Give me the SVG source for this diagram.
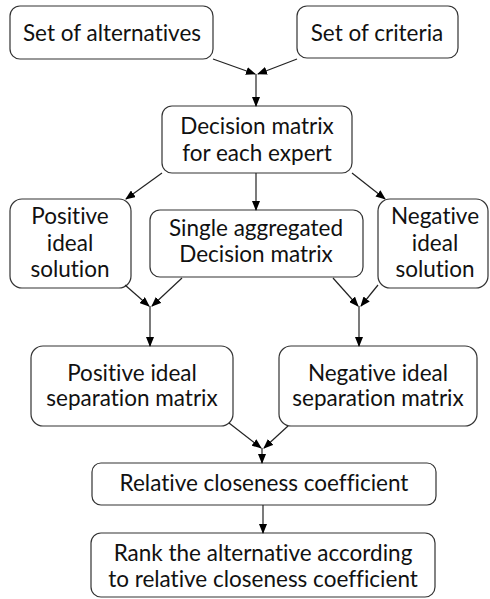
<svg xmlns="http://www.w3.org/2000/svg" width="490" height="599" viewBox="0 0 490 599">
<defs>
<marker id="ah" markerWidth="10" markerHeight="8" refX="9" refY="4" orient="auto" markerUnits="userSpaceOnUse">
<path d="M0,0 L10,4 L0,8 Z" fill="#000"/>
</marker>
<style>
.box{fill:#fff;stroke:#333;stroke-width:1.2}
.t{font-family:Lato,"Noto Sans",sans-serif;font-size:22.5px;fill:#111;text-anchor:middle;font-variant-ligatures:none}
.a{stroke:#222;stroke-width:1.2;fill:none;marker-end:url(#ah)}
</style>
</defs>
<rect width="490" height="599" fill="#fff"/>
<g id="alternatives"><rect class="box" x="10" y="6" width="203" height="53" rx="10"/><text class="t" x="112" y="41">Set of alternatives</text></g>
<g id="criteria"><rect class="box" x="297" y="6" width="161" height="52" rx="10"/><text class="t" x="377" y="41">Set of criteria</text></g>
<g id="decision"><rect class="box" x="162" y="106" width="190" height="67" rx="10"/><text class="t" x="257" y="134">Decision matrix</text><text class="t" x="257" y="161">for each expert</text></g>
<g id="pis"><rect class="box" x="10" y="199" width="121" height="89" rx="12"/><text class="t" x="70" y="224">Positive</text><text class="t" x="70" y="251">ideal</text><text class="t" x="70" y="277">solution</text></g>
<g id="single"><rect class="box" x="150" y="210" width="213" height="67" rx="10"/><text class="t" x="256" y="236">Single aggregated</text><text class="t" x="256" y="262">Decision matrix</text></g>
<g id="nis"><rect class="box" x="378" y="199" width="110" height="89" rx="12"/><text class="t" x="435" y="224">Negative</text><text class="t" x="435" y="251">ideal</text><text class="t" x="435" y="277">solution</text></g>
<g id="psm"><rect class="box" x="31" y="346" width="202" height="80" rx="12"/><text class="t" x="132" y="381">Positive ideal</text><text class="t" x="132" y="406">separation matrix</text></g>
<g id="nsm"><rect class="box" x="279" y="346" width="198" height="80" rx="12"/><text class="t" x="378" y="381">Negative ideal</text><text class="t" x="378" y="406">separation matrix</text></g>
<g id="rcc"><rect class="box" x="92" y="463" width="344" height="42" rx="9"/><text class="t" x="264" y="491">Relative closeness coefficient</text></g>
<g id="rank"><rect class="box" x="91" y="533" width="344" height="64" rx="10"/><text class="t" x="263" y="561">Rank the alternative according</text><text class="t" x="263" y="587">to relative closeness coefficient</text></g>
<g id="connectors">
<line class="a" x1="213" y1="59" x2="255" y2="74"/>
<line class="a" x1="297" y1="59" x2="258" y2="74"/>
<line class="a" x1="256" y1="74" x2="256" y2="106"/>
<line class="a" x1="162" y1="173" x2="126" y2="199"/>
<line class="a" x1="256" y1="173" x2="256" y2="210"/>
<line class="a" x1="352" y1="173" x2="385" y2="199"/>
<line class="a" x1="125" y1="285" x2="149" y2="306"/>
<line class="a" x1="182" y1="278" x2="152" y2="306"/>
<line class="a" x1="150" y1="306" x2="150" y2="346"/>
<line class="a" x1="333" y1="278" x2="358" y2="306"/>
<line class="a" x1="378" y1="285" x2="361" y2="306"/>
<line class="a" x1="359" y1="306" x2="359" y2="346"/>
<line class="a" x1="229" y1="423" x2="261" y2="448"/>
<line class="a" x1="288" y1="426" x2="264" y2="448"/>
<line class="a" x1="262" y1="448" x2="262" y2="463"/>
<line class="a" x1="263" y1="505" x2="263" y2="533"/>
</g>
</svg>
